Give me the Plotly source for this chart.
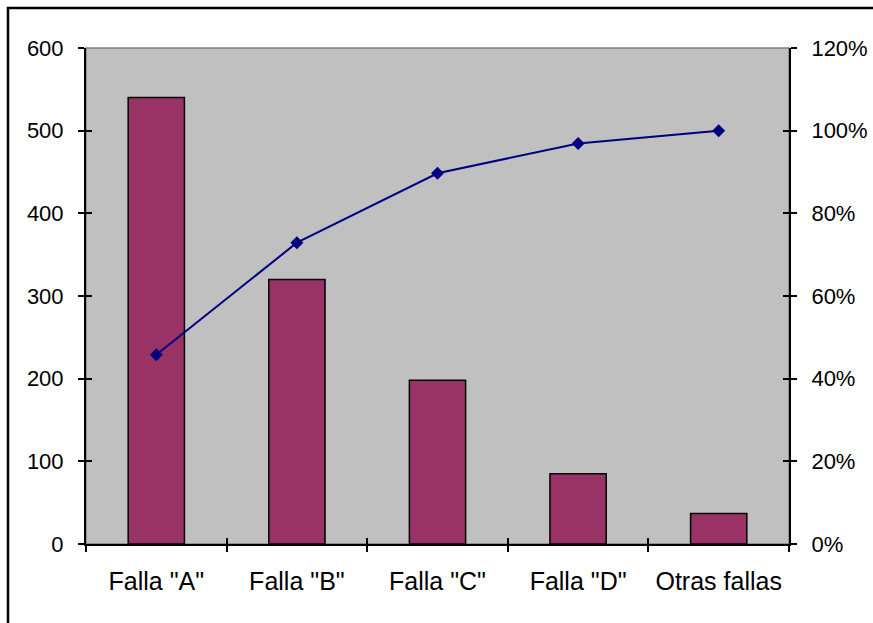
import plotly.graph_objects as go

# Pareto de fallas
categorias = ['Falla "A"', 'Falla "B"', 'Falla "C"', 'Falla "D"', 'Otras fallas']
frecuencia = [540, 320, 198, 85, 37]
acumulado_pct = [0.458, 0.729, 0.897, 0.969, 1.0]
ticks_izq = [0, 100, 200, 300, 400, 500, 600]
ticks_der = [0, 0.2, 0.4, 0.6, 0.8, 1.0, 1.2]
limites = [-0.5, 0.5, 1.5, 2.5, 3.5, 4.5]

FONT = "Liberation Sans, Arial, sans-serif"
W, H = 873, 623
ML, MR, MT, MB = 86, 84, 48, 79

fig = go.Figure()

fig.add_trace(go.Bar(
    x=categorias, y=frecuencia,
    marker=dict(color="#993366", line=dict(color="black", width=1.5)),
    showlegend=False, hoverinfo="x+y",
))

fig.add_trace(go.Scatter(
    x=categorias, y=acumulado_pct, yaxis="y2",
    mode="lines+markers",
    line=dict(color="#000080", width=2),
    marker=dict(symbol="diamond", size=10, color="#000080"),
    showlegend=False,
))

# empty traces so the inner-tick axes get drawn
fig.add_trace(go.Scatter(x=[], y=[], xaxis="x2", yaxis="y3", showlegend=False))
fig.add_trace(go.Scatter(x=[], y=[], xaxis="x2", yaxis="y4", showlegend=False))

axis_common = dict(showgrid=False, zeroline=False, tickcolor="black",
                   tickwidth=1.5, ticklen=6, color="black", automargin=False)

fig.update_layout(
    width=W, height=H,
    margin=dict(l=ML, r=MR, t=MT, b=MB, autoexpand=False),
    paper_bgcolor="white", plot_bgcolor="#C0C0C0",
    font=dict(family=FONT, color="black"),
    bargap=0.6,
    xaxis=dict(**axis_common, type="category", categoryorder="array",
               categoryarray=categorias, range=[-0.5, 4.5],
               ticks="outside", tickson="boundaries",
               showline=True, linecolor="black", linewidth=2,
               tickfont=dict(size=25, family=FONT), ticklabelstandoff=14),
    yaxis=dict(**axis_common, range=[0, 600], tickvals=ticks_izq,
               ticks="outside", showline=True, linecolor="black", linewidth=2,
               tickfont=dict(size=22, family=FONT), ticklabelstandoff=10),
    yaxis2=dict(**axis_common, overlaying="y", side="right", range=[0, 1.2],
                tickvals=ticks_der, tickformat=".0%", ticks="outside",
                showline=True, linecolor="black", linewidth=2,
                tickfont=dict(size=22, family=FONT), ticklabelstandoff=10),
    xaxis2=dict(**axis_common, overlaying="x", anchor="y", side="bottom",
                range=[-0.5, 4.5], tickvals=limites, ticks="inside",
                showticklabels=False, showline=False),
    yaxis3=dict(**axis_common, overlaying="y", anchor="x", side="left",
                range=[0, 600], tickvals=ticks_izq, ticks="inside",
                showticklabels=False, showline=False),
    yaxis4=dict(**axis_common, overlaying="y", anchor="x", side="right",
                range=[0, 1.2], tickvals=ticks_der, ticks="inside",
                showticklabels=False, showline=False),
    shapes=[
        # plot area frame (gray top edge)
        dict(type="rect", xref="paper", yref="paper", x0=0, x1=1, y0=0, y1=1,
             line=dict(color="#808080", width=1.5), layer="below"),
        # chart border
        dict(type="rect", xref="paper", yref="paper",
             x0=(8 - ML) / (W - ML - MR), x1=1.5,
             y0=-0.5, y1=1 + (MT - 8) / (H - MT - MB),
             line=dict(color="black", width=2.5)),
    ],
)

fig.write_html("out.html")
